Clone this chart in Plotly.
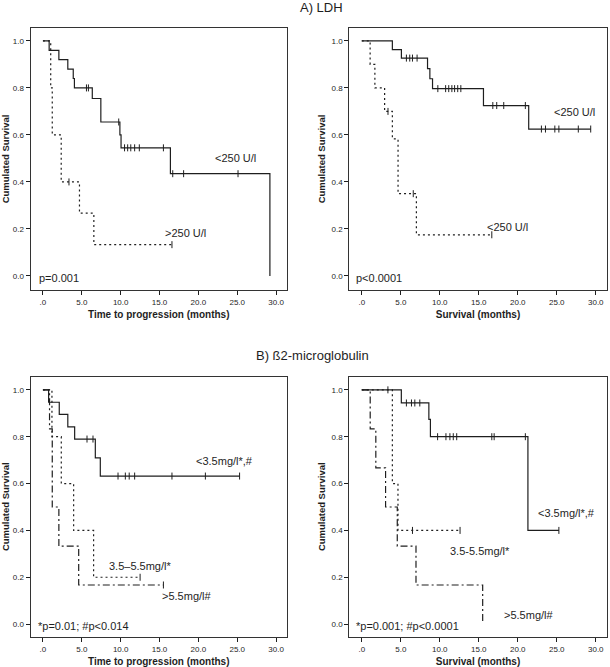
import plotly.graph_objects as go

# ---------------- data ----------------
# A) LDH - time to progression
a1_low_t = [0, 0.8, 2.05, 3.2, 3.9, 4.05, 6.35, 7.45, 9.9, 10.05, 16.4, 29.2]
a1_low_s = [1, 0.96, 0.92, 0.88, 0.84, 0.80, 0.755, 0.655, 0.60, 0.545, 0.435, 0.0]
a1_low_c = [5.6, 5.85, 9.75, 10.5, 10.9, 11.3, 11.8, 12.4, 15.5, 16.7, 18.1, 25.1]
a1_high_t = [0, 1.0, 1.2, 2.35, 4.7, 6.55, 16.6]
a1_high_s = [1, 0.8, 0.6, 0.4, 0.267, 0.133, 0.133]
a1_high_c = [3.35, 16.6]

# A) LDH - survival
a2_low_t = [0, 3.92, 5.08, 8.43, 8.73, 9.07, 15.6, 21.4, 29.35]
a2_low_s = [1, 0.963, 0.927, 0.882, 0.839, 0.797, 0.725, 0.625, 0.625]
a2_low_c = [5.72, 6.15, 6.5, 7.09, 9.75, 10.75, 11.15, 11.55, 11.9, 12.3, 12.7,
            16.8, 17.3, 18.2, 20.97, 23.03, 23.55, 24.75, 25.27, 27.76, 29.35]
a2_high_t = [0, 1.07, 1.68, 2.93, 3.92, 4.65, 7.0, 16.67]
a2_high_s = [1, 0.9, 0.8, 0.7, 0.583, 0.35, 0.175, 0.175]
a2_high_c = [3.36, 6.6, 16.67]

# B) beta2-microglobulin - time to progression
b1_low_t = [0, 0.73, 2.1, 3.2, 4.08, 6.74, 7.38, 25.3]
b1_low_s = [1, 0.947, 0.895, 0.842, 0.79, 0.71, 0.632, 0.632]
b1_low_c = [5.67, 6.44, 9.66, 10.6, 11.1, 11.8, 16.6, 20.9, 25.3]
b1_mid_t = [0, 1.16, 2.36, 3.95, 6.52, 12.5]
b1_mid_s = [1, 0.8, 0.6, 0.4, 0.2, 0.2]
b1_mid_c = [12.5]
b1_high_t = [0, 0.85, 1.2, 2.05, 4.6, 15.5]
b1_high_s = [1, 0.833, 0.5, 0.333, 0.167, 0.167]
b1_high_c = [15.5]

# B) beta2-microglobulin - survival
b2_low_t = [0, 5.07, 8.6, 8.8, 21.3, 25.27]
b2_low_s = [1, 0.944, 0.874, 0.80, 0.40, 0.40]
b2_low_c = [5.72, 6.37, 6.8, 7.44, 9.72, 10.79, 11.3, 11.73, 12.17, 16.67, 16.97, 20.97, 25.27]
b2_mid_t = [0, 3.92, 4.64, 12.6]
b2_mid_s = [1, 0.6, 0.4, 0.4]
b2_mid_c = [3.35, 6.5, 12.6]
b2_high_t = [0, 1.08, 1.8, 3.05, 4.55, 6.95, 15.5]
b2_high_s = [1, 0.833, 0.667, 0.5, 0.333, 0.167, 0.0]

x_tickvals = [0, 5, 10, 15, 20, 25, 30]
x_ticktext = [".0", "5.0", "10.0", "15.0", "20.0", "25.0", "30.0"]
y_tickvals = [0, 0.2, 0.4, 0.6, 0.8, 1.0]
y_ticktext = ["0.0", "0.2", "0.4", "0.6", "0.8", "1.0"]

# ---------------- styling ----------------
FONT = "Liberation Sans, Arial, sans-serif"
INK = "#1e1e1e"
SOLID = None
DOT = "2px,3px"
DASHDOT = "7px,3px,2px,3px"


def surv_at(t_list, s_list, c):
    val = s_list[0]
    for t, s in zip(t_list, s_list):
        if t <= c:
            val = s
    return val


fig = go.Figure()


def add_curve(t, s, cens, dash, xa, ya):
    line = dict(color=INK, width=1.2, shape="hv")
    if dash:
        line["dash"] = dash
    fig.add_trace(go.Scatter(x=t, y=s, mode="lines", line=line,
                             xaxis=xa, yaxis=ya, showlegend=False, hoverinfo="skip"))
    if cens:
        fig.add_trace(go.Scatter(
            x=cens, y=[surv_at(t, s, c) for c in cens], mode="markers",
            marker=dict(symbol="line-ns", size=5, line=dict(width=1, color=INK)),
            xaxis=xa, yaxis=ya, showlegend=False, hoverinfo="skip"))


add_curve(a1_low_t, a1_low_s, a1_low_c, SOLID, "x", "y")
add_curve(a1_high_t, a1_high_s, a1_high_c, DOT, "x", "y")
add_curve(a2_low_t, a2_low_s, a2_low_c, SOLID, "x2", "y2")
add_curve(a2_high_t, a2_high_s, a2_high_c, DOT, "x2", "y2")
add_curve(b1_low_t, b1_low_s, b1_low_c, SOLID, "x3", "y3")
add_curve(b1_mid_t, b1_mid_s, b1_mid_c, DOT, "x3", "y3")
add_curve(b1_high_t, b1_high_s, b1_high_c, DASHDOT, "x3", "y3")
add_curve(b2_low_t, b2_low_s, b2_low_c, SOLID, "x4", "y4")
add_curve(b2_mid_t, b2_mid_s, b2_mid_c, DOT, "x4", "y4")
add_curve(b2_high_t, b2_high_s, None, DASHDOT, "x4", "y4")

W, H = 610, 667
left_dom = [30.5 / W, 287 / W]
right_dom = [349.3 / W, 606.7 / W]
top_dom = [1 - 290 / H, 1 - 28 / H]
bot_dom = [1 - 637 / H, 1 - 376.5 / H]


def xax(domain, anchor, title):
    return dict(domain=domain, anchor=anchor, range=[-1.6, 31.4],
                tickvals=x_tickvals, ticktext=x_ticktext,
                ticks="outside", ticklen=4, tickwidth=1, tickcolor=INK,
                tickfont=dict(family=FONT, size=8, color=INK),
                showline=True, mirror=True, linecolor="#333", linewidth=1,
                showgrid=False, zeroline=False,
                title=dict(text=title, standoff=5,
                           font=dict(family=FONT, size=10, color=INK, weight="bold")))


def yax(domain, anchor, rng):
    return dict(domain=domain, anchor=anchor, range=rng,
                tickvals=y_tickvals, ticktext=y_ticktext,
                ticks="outside", ticklen=4, tickwidth=1, tickcolor=INK,
                tickfont=dict(family=FONT, size=8, color=INK),
                showline=True, mirror=True, linecolor="#333", linewidth=1,
                showgrid=False, zeroline=False,
                title=dict(text="Cumulated Survival", standoff=4,
                           font=dict(family=FONT, size=9.5, color=INK, weight="bold")))


fig.update_layout(
    width=W, height=H, margin=dict(l=0, r=0, t=0, b=0),
    paper_bgcolor="white", plot_bgcolor="white",
    xaxis=xax(left_dom, "y", "Time to progression (months)"),
    yaxis=yax(top_dom, "x", [-0.06, 1.055]),
    xaxis2=xax(right_dom, "y2", "Survival (months)"),
    yaxis2=yax(top_dom, "x2", [-0.06, 1.055]),
    xaxis3=xax(left_dom, "y3", "Time to progression (months)"),
    yaxis3=yax(bot_dom, "x3", [-0.055, 1.057]),
    xaxis4=xax(right_dom, "y4", "Survival (months)"),
    yaxis4=yax(bot_dom, "x4", [-0.055, 1.057]),
)

ann_font = dict(family=FONT, size=11, color=INK)
labels = [
    ("x", "y", 24.8, 0.50, "<250 U/l", "center"),
    ("x", "y", 18.3, 0.183, ">250 U/l", "center"),
    ("x", "y", -0.8, -0.01, "p=0.001", "left"),
    ("x2", "y2", 27.3, 0.696, "<250 U/l", "center"),
    ("x2", "y2", 18.65, 0.209, "<250 U/l", "center"),
    ("x2", "y2", -0.94, -0.01, "p<0.0001", "left"),
    ("x3", "y3", 23.3, 0.698, "<3.5mg/l*,#", "center"),
    ("x3", "y3", 12.5, 0.246, "3.5–5.5mg/l*", "center"),
    ("x3", "y3", 18.5, 0.118, ">5.5mg/l#", "center"),
    ("x3", "y3", -0.94, -0.007, "*p=0.01; #p<0.014", "left"),
    ("x4", "y4", 26.3, 0.476, "<3.5mg/l*,#", "center"),
    ("x4", "y4", 15.2, 0.314, "3.5-5.5mg/l*", "center"),
    ("x4", "y4", 21.4, 0.04, ">5.5mg/l#", "center"),
    ("x4", "y4", -0.94, -0.007, "*p=0.001; #p<0.0001", "left"),
]
for xr, yr, x, y, txt, xanc in labels:
    fig.add_annotation(xref=xr, yref=yr, x=x, y=y, text=txt, showarrow=False,
                       xanchor=xanc, yanchor="middle", font=ann_font)

title_font = dict(family=FONT, size=13, color=INK)
fig.add_annotation(xref="paper", yref="paper", x=321.5 / W, y=1 - 7.5 / H, text="A) LDH",
                   showarrow=False, xanchor="center", yanchor="middle", font=title_font)
fig.add_annotation(xref="paper", yref="paper", x=312.5 / W, y=1 - 355.7 / H,
                   text="B) ß2-microglobulin", showarrow=False,
                   xanchor="center", yanchor="middle", font=title_font)

fig.write_html("out.html", config={"displayModeBar": False},
               post_script="document.body.style.margin='0';document.body.style.overflow='hidden';")
